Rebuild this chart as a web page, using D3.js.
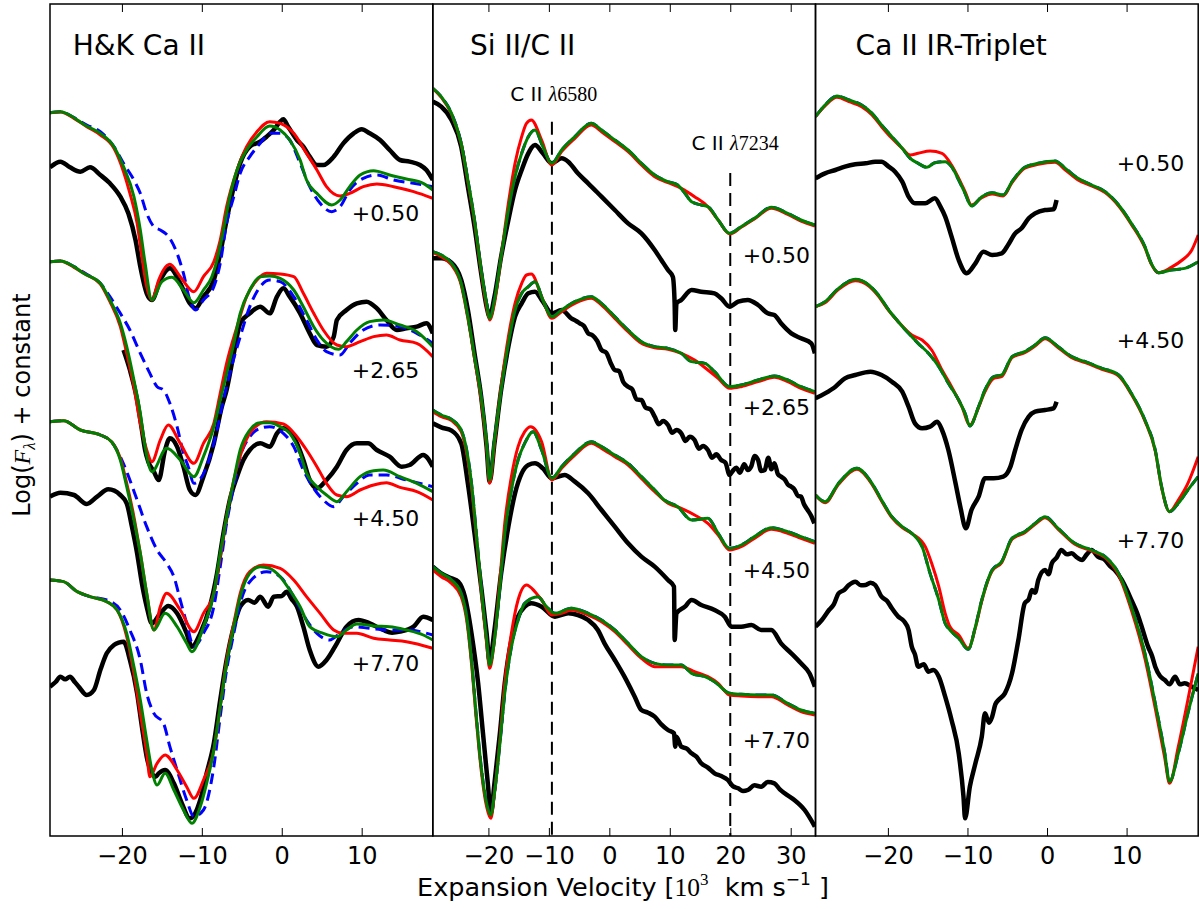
<!DOCTYPE html>
<html>
<head>
<meta charset="utf-8">
<script src="https://cdn.jsdelivr.net/npm/d3@7/dist/d3.min.js"></script>
<style>
  body { margin: 0; background: #fff; }
  text { font-family: "DejaVu Sans", sans-serif; }
</style>
</head>
<body>
<div id="chart"></div>
<script>
// ---- data: [velocity (10^3 km/s), log flux + constant] ----
var panelTitles = ["H&K Ca II", "Si II/C II", "Ca II IR-Triplet"];
var hkTicks = [-20, -10, 0, 10];
var siTicks = [-20, -10, 0, 10, 20, 30];
var caTicks = [-20, -10, 0, 10];
var hkEpochs = ["+0.50", "+2.65", "+4.50", "+7.70"];
var siEpochs = ["+0.50", "+2.65", "+4.50", "+7.70"];
var caEpochs = ["+0.50", "+4.50", "+7.70"];
var ciiVel = [-9.5, 20.0];
var ciiWave = ["6580", "7234"];

// H&K Ca II
var hk050Obs = [[-29.0,20.06],[-27.7,20.23],[-26.5,20.06],[-25.2,19.93],[-24.0,20.06],[-22.7,19.83],[-21.5,19.58],[-20.2,19.18],[-19.2,18.68],[-18.3,17.88],[-17.7,17.08],[-16.9,16.28],[-16.25,16.08],[-15.2,16.68],[-14.0,17.03],[-12.7,16.58],[-11.5,15.98],[-10.8,15.83],[-9.8,16.18],[-8.5,16.68],[-7.7,17.48],[-6.9,18.48],[-6.0,19.48],[-5.2,20.18],[-4.0,20.68],[-2.7,20.83],[-1.9,20.98],[-1.0,21.18],[-0.2,21.43],[0.2,21.50],[0.8,21.28],[1.9,20.88],[2.7,20.68],[3.5,20.38],[4.4,20.13],[5.2,20.13],[6.5,20.38],[7.7,20.78],[9.0,21.08],[10.0,21.20],[11.0,21.08],[12.3,20.88],[13.5,20.58],[14.8,20.28],[16.0,20.23],[17.3,20.13],[18.1,19.98],[18.9,19.68]];
var hk050Red = [[-29.0,21.70],[-27.7,21.72],[-26.0,21.53],[-24.4,21.28],[-22.7,21.03],[-21.0,20.63],[-19.8,19.93],[-19.0,19.28],[-18.1,18.38],[-17.5,17.38],[-16.9,16.48],[-16.25,16.08],[-15.4,16.68],[-14.8,16.98],[-14.0,17.15],[-12.7,16.78],[-11.0,16.33],[-9.8,16.78],[-8.5,17.23],[-7.7,17.88],[-6.9,18.88],[-5.6,19.98],[-4.4,20.68],[-3.1,21.13],[-1.5,21.43],[-0.2,21.38],[1.5,21.08],[3.1,20.48],[4.4,19.98],[5.6,19.48],[7.3,19.20],[8.5,19.28],[10.2,19.48],[11.9,19.56],[14.0,19.48],[16.5,19.33],[18.9,19.13]];
var hk050Green = [[-29.0,21.70],[-27.7,21.73],[-26.0,21.55],[-24.8,21.35],[-22.7,21.08],[-21.0,20.68],[-19.8,20.08],[-18.5,19.18],[-17.7,18.18],[-17.1,17.18],[-16.25,16.08],[-15.0,16.63],[-13.75,16.76],[-12.3,16.38],[-11.0,16.00],[-9.8,16.38],[-8.75,16.78],[-8.1,17.28],[-7.3,18.18],[-6.5,19.18],[-5.6,19.98],[-4.4,20.58],[-3.1,20.98],[-1.5,21.30],[-0.2,21.18],[1.0,20.88],[2.3,20.28],[3.1,19.68],[4.4,19.28],[6.25,18.93],[7.3,19.08],[8.5,19.48],[9.8,19.83],[11.5,19.96],[13.5,19.83],[15.6,19.71],[17.7,19.58],[18.9,19.38]];
var hk050Blue = [[-29.0,21.70],[-27.7,21.73],[-26.0,21.55],[-24.4,21.33],[-22.7,21.13],[-21.0,20.68],[-19.8,20.18],[-18.5,19.68],[-17.7,19.28],[-16.9,18.68],[-16.0,18.28],[-15.2,18.18],[-14.0,17.93],[-13.1,17.48],[-12.3,16.88],[-11.5,16.08],[-10.8,15.78],[-9.8,16.08],[-8.5,16.48],[-7.7,17.18],[-6.9,18.38],[-6.0,19.18],[-5.2,19.88],[-4.0,20.38],[-2.7,20.78],[-1.5,21.08],[-0.2,21.08],[1.0,20.88],[2.3,20.18],[3.5,19.48],[4.8,18.98],[6.25,18.73],[7.3,18.88],[8.5,19.38],[10.2,19.73],[11.9,19.83],[14.0,19.68],[16.5,19.58],[18.9,19.48]];

var hk265Obs = [[-19.8,14.58],[-19.0,13.98],[-18.1,13.08],[-17.5,12.18],[-17.1,11.58],[-16.7,11.23],[-16.0,10.93],[-15.4,10.68],[-14.6,11.58],[-14.0,11.93],[-13.1,11.68],[-12.3,11.08],[-11.5,10.38],[-10.8,10.23],[-9.8,10.78],[-8.5,11.78],[-7.5,12.88],[-6.9,13.38],[-6.0,14.48],[-5.2,15.38],[-4.0,15.68],[-2.7,15.88],[-1.5,15.68],[-0.6,16.18],[0.2,16.43],[1.0,16.18],[2.3,15.68],[3.5,15.08],[4.4,14.73],[5.6,14.68],[6.5,14.98],[6.9,15.48],[8.1,15.78],[9.4,15.98],[10.6,16.03],[11.9,15.83],[13.1,15.48],[14.4,15.18],[15.6,15.23],[16.9,15.28],[18.1,15.38],[18.9,15.08]];
var hk265Red = [[-29.0,17.23],[-27.7,17.25],[-26.0,17.06],[-24.4,16.83],[-22.7,16.56],[-21.5,16.03],[-20.2,15.28],[-19.4,14.48],[-18.5,13.48],[-17.7,12.38],[-16.9,11.58],[-16.25,11.23],[-15.2,11.88],[-14.2,12.33],[-12.7,11.78],[-11.0,11.18],[-9.8,11.78],[-8.5,12.38],[-7.7,13.28],[-6.9,14.18],[-5.6,15.28],[-4.4,16.18],[-3.1,16.68],[-1.9,16.88],[-0.2,16.86],[1.5,16.78],[2.7,16.28],[4.0,15.68],[5.2,15.18],[6.9,14.73],[8.1,14.68],[9.8,14.83],[11.5,14.98],[13.1,15.03],[14.8,14.88],[16.9,14.78],[18.9,14.38]];
var hk265Green = [[-29.0,17.23],[-27.7,17.25],[-26.0,17.08],[-24.8,16.88],[-22.7,16.58],[-21.5,16.08],[-20.2,15.38],[-19.4,14.68],[-18.5,13.68],[-17.7,12.68],[-17.1,11.68],[-16.25,10.93],[-14.4,11.63],[-12.7,11.28],[-11.0,10.78],[-9.8,11.38],[-8.5,12.28],[-7.7,13.08],[-6.9,13.88],[-6.0,14.78],[-5.2,15.68],[-4.0,16.38],[-2.7,16.78],[-1.5,16.80],[-0.2,16.73],[1.5,16.38],[2.7,15.88],[4.0,15.28],[5.2,14.88],[7.1,14.60],[8.1,14.83],[9.4,15.18],[11.0,15.43],[12.7,15.48],[14.8,15.33],[16.9,15.13],[18.9,14.68]];
var hk265Blue = [[-29.0,17.23],[-27.7,17.25],[-26.0,17.08],[-24.4,16.85],[-22.7,16.58],[-21.5,16.18],[-20.2,15.68],[-19.0,15.18],[-17.7,14.48],[-16.5,13.88],[-15.6,13.48],[-14.8,13.38],[-14.0,12.98],[-13.1,12.28],[-12.3,11.48],[-11.7,11.08],[-11.0,10.58],[-9.4,11.08],[-8.1,12.18],[-7.3,13.08],[-6.5,13.88],[-5.2,14.98],[-4.0,15.88],[-2.7,16.48],[-1.5,16.68],[-0.2,16.63],[1.5,16.18],[3.1,15.48],[4.4,14.88],[5.6,14.53],[7.3,14.43],[8.5,14.78],[10.2,15.18],[12.3,15.33],[14.8,15.28],[16.9,15.08],[18.9,14.78]];

var hk450Obs = [[-29.0,10.18],[-27.7,10.30],[-26.0,10.23],[-24.4,9.96],[-23.1,10.18],[-21.7,10.40],[-20.2,10.23],[-19.4,9.98],[-18.75,9.28],[-18.1,8.48],[-17.5,7.58],[-16.9,6.88],[-16.25,6.38],[-15.2,6.68],[-14.2,6.90],[-13.1,6.68],[-11.9,6.08],[-11.25,5.68],[-10.2,6.08],[-9.0,6.88],[-8.1,7.88],[-7.3,9.08],[-6.5,10.08],[-5.6,10.78],[-4.8,11.28],[-4.0,11.58],[-2.7,11.78],[-1.5,11.68],[-0.6,12.08],[0.2,12.23],[1.5,11.98],[2.7,11.28],[3.5,10.68],[4.4,10.43],[5.6,10.68],[6.9,11.08],[8.1,11.58],[9.4,11.78],[10.8,11.78],[11.9,11.58],[13.5,11.38],[15.0,11.08],[16.0,11.13],[17.7,11.43],[18.9,11.08]];
var hk450Red = [[-29.0,12.43],[-27.3,12.46],[-25.2,12.18],[-22.7,12.03],[-21.3,11.83],[-20.2,11.33],[-19.4,10.58],[-18.5,9.58],[-17.7,8.48],[-16.9,7.28],[-16.0,6.18],[-15.2,6.88],[-14.4,7.28],[-12.7,6.78],[-11.0,6.13],[-9.8,6.68],[-8.5,7.28],[-7.7,8.38],[-6.9,9.58],[-6.0,10.68],[-4.8,11.68],[-3.5,12.23],[-1.9,12.43],[0.2,12.36],[1.9,11.98],[3.1,11.58],[4.4,11.08],[5.6,10.58],[6.9,10.23],[8.1,10.18],[9.8,10.38],[11.5,10.53],[13.1,10.60],[14.8,10.46],[16.9,10.33],[18.9,10.08]];
var hk450Green = [[-29.0,12.43],[-27.3,12.46],[-25.2,12.18],[-22.7,12.03],[-21.3,11.83],[-20.2,11.28],[-19.4,10.48],[-18.5,9.48],[-17.7,8.48],[-16.9,7.28],[-16.0,6.18],[-14.6,6.68],[-13.1,6.28],[-11.9,5.78],[-11.25,5.53],[-9.8,6.28],[-8.5,7.28],[-7.7,8.48],[-6.9,9.58],[-6.0,10.68],[-5.2,11.58],[-4.0,12.18],[-2.7,12.40],[-1.5,12.40],[-0.2,12.28],[1.0,12.08],[2.3,11.48],[3.1,10.88],[4.4,10.48],[5.6,10.23],[6.9,10.03],[8.1,10.33],[9.8,10.78],[11.5,10.96],[12.7,10.98],[14.8,10.78],[16.9,10.58],[18.9,10.33]];
var hk450Blue = [[-29.0,12.43],[-27.3,12.46],[-25.2,12.18],[-22.7,12.03],[-21.3,11.83],[-20.2,11.38],[-19.4,10.93],[-18.1,10.08],[-16.9,9.28],[-15.6,8.58],[-14.4,8.18],[-13.5,7.78],[-12.7,7.08],[-11.9,6.38],[-11.0,5.68],[-9.8,6.08],[-8.5,6.88],[-7.7,8.08],[-6.9,9.38],[-6.0,10.48],[-5.2,11.38],[-4.0,11.98],[-2.7,12.23],[-1.5,12.28],[0.2,12.08],[1.5,11.68],[2.7,10.98],[4.0,10.43],[5.2,10.08],[6.5,9.88],[7.7,10.18],[9.4,10.58],[11.0,10.83],[13.1,10.83],[15.6,10.68],[18.9,10.48]];

var hk770Obs = [[-29.0,4.48],[-28.3,4.62],[-27.7,4.78],[-27.1,4.70],[-26.5,4.78],[-25.9,4.62],[-25.4,4.48],[-24.4,4.23],[-23.5,4.38],[-22.7,4.98],[-21.9,5.48],[-21.0,5.73],[-20.4,5.80],[-19.8,5.83],[-19.0,5.28],[-18.1,4.28],[-17.5,3.28],[-16.9,2.38],[-16.25,1.88],[-15.8,1.78],[-15.4,1.88],[-14.6,1.98],[-13.5,1.58],[-12.5,0.98],[-11.5,0.53],[-10.2,1.08],[-9.4,1.88],[-8.5,2.78],[-7.7,4.08],[-6.9,5.28],[-6.0,6.28],[-5.2,6.88],[-4.2,7.08],[-3.4,7.00],[-2.7,7.18],[-1.7,6.88],[-1.0,7.18],[0.0,7.20],[0.6,7.33],[1.2,7.12],[1.9,6.88],[2.7,6.28],[3.5,5.58],[4.6,5.08],[5.6,5.28],[6.9,5.78],[8.1,6.28],[9.6,6.48],[11.0,6.38],[12.7,6.18],[13.8,6.10],[14.8,6.13],[16.5,6.28],[17.7,6.58],[18.9,6.48]];
var hk770Red = [[-29.0,7.68],[-27.3,7.63],[-25.6,7.33],[-24.0,7.18],[-21.9,7.03],[-20.6,6.78],[-19.4,5.98],[-18.5,4.88],[-17.7,3.68],[-16.9,2.48],[-16.5,1.78],[-15.6,2.18],[-14.6,2.43],[-13.1,1.98],[-11.9,1.48],[-11.0,1.13],[-9.8,1.68],[-8.5,2.58],[-7.7,3.88],[-6.9,5.28],[-6.0,6.38],[-5.2,7.28],[-4.0,7.93],[-2.3,8.13],[-0.2,8.03],[1.5,7.68],[3.1,7.18],[4.8,6.68],[6.5,6.18],[7.7,6.08],[9.4,6.08],[11.5,5.93],[13.5,5.88],[15.6,5.83],[18.9,5.63]];
var hk770Green = [[-29.0,7.68],[-27.3,7.63],[-25.6,7.33],[-24.0,7.18],[-21.9,7.03],[-20.6,6.78],[-19.4,6.08],[-18.5,5.08],[-17.7,4.08],[-16.9,2.88],[-16.25,1.98],[-15.6,1.53],[-14.6,1.88],[-13.5,1.38],[-12.3,0.78],[-11.25,0.38],[-10.2,0.88],[-9.4,1.58],[-8.5,2.58],[-7.7,3.88],[-6.9,5.18],[-6.0,6.28],[-5.2,7.18],[-4.0,7.88],[-2.7,8.08],[-1.5,8.03],[-0.2,7.78],[1.0,7.38],[2.3,6.88],[3.5,6.28],[5.2,6.08],[6.9,5.98],[8.1,6.18],[9.4,6.36],[11.5,6.30],[13.5,6.28],[15.6,6.18],[17.7,6.03],[18.9,5.88]];
var hk770Blue = [[-29.0,7.68],[-27.3,7.63],[-25.6,7.33],[-24.0,7.18],[-21.9,7.08],[-20.2,6.78],[-19.0,6.18],[-17.7,5.28],[-16.9,4.28],[-16.0,3.68],[-14.8,3.38],[-14.0,2.68],[-13.1,1.98],[-11.9,1.08],[-11.0,0.58],[-9.8,0.78],[-8.5,2.08],[-7.7,3.58],[-6.9,4.98],[-6.0,6.08],[-5.2,6.98],[-4.0,7.63],[-1.9,7.93],[-0.2,7.78],[1.5,7.18],[3.1,6.48],[4.4,6.08],[6.0,5.88],[7.3,6.08],[9.0,6.28],[11.0,6.23],[13.5,6.18],[15.6,6.18],[18.9,6.03]];

// Si II / C II
var si050Obs = [[-29.2,22.03],[-27.8,21.88],[-26.1,21.48],[-24.5,20.68],[-23.4,19.48],[-22.3,18.28],[-21.2,16.88],[-20.3,15.88],[-19.8,15.58],[-19.0,16.18],[-17.9,17.38],[-16.7,18.48],[-15.6,19.38],[-14.5,19.98],[-13.4,20.48],[-12.3,20.73],[-11.0,20.48],[-9.5,20.18],[-7.9,20.33],[-6.8,20.23],[-5.2,19.88],[-3.5,19.58],[-1.3,19.18],[0.9,18.78],[3.1,18.38],[5.3,18.08],[7.5,17.58],[8.6,17.28],[9.7,16.98],[10.5,16.78],[10.8,15.98],[10.9,15.18],[11.1,15.98],[11.9,16.08],[13.6,16.38],[15.2,16.33],[17.4,16.28],[18.5,16.13],[19.9,15.88],[21.3,16.03],[22.9,16.08],[24.6,15.93],[26.2,15.68],[27.3,15.63],[28.4,15.38],[30.1,15.08],[31.7,14.93],[33.4,14.78],[34.0,14.48]];
var si050Red = [[-29.2,22.43],[-27.8,22.16],[-26.1,21.66],[-24.5,20.76],[-23.4,19.63],[-22.3,18.43],[-21.2,16.93],[-20.3,15.88],[-19.8,15.48],[-19.0,15.98],[-17.9,17.38],[-16.7,18.98],[-15.6,20.18],[-14.5,20.98],[-13.7,21.38],[-12.9,21.48],[-11.2,20.88],[-9.5,20.13],[-7.9,20.53],[-5.7,20.93],[-3.0,21.33],[-1.3,21.13],[0.9,20.83],[3.1,20.53],[5.3,20.13],[7.5,19.78],[9.7,19.60],[11.9,19.43],[14.1,19.18],[16.3,18.88],[18.0,18.48],[19.9,18.06],[21.8,18.26],[24.0,18.51],[26.8,18.83],[29.5,18.65],[31.7,18.45],[34.0,18.30]];
var si050Green = [[-29.2,22.43],[-27.8,22.18],[-26.1,21.68],[-24.5,20.78],[-23.4,19.68],[-22.3,18.48],[-21.2,16.98],[-20.3,15.98],[-19.8,15.53],[-19.0,16.08],[-17.9,17.38],[-16.7,18.78],[-15.6,19.78],[-14.5,20.48],[-13.4,20.98],[-12.3,21.18],[-11.0,20.68],[-9.5,20.18],[-7.9,20.58],[-5.7,20.98],[-3.0,21.38],[-1.3,21.18],[0.9,20.88],[3.1,20.58],[5.3,20.18],[7.5,19.83],[9.7,19.63],[11.3,19.53],[12.5,19.28],[13.6,19.03],[15.2,18.93],[16.3,18.88],[18.0,18.48],[19.9,18.08],[21.8,18.28],[24.0,18.53],[26.8,18.86],[29.5,18.68],[31.7,18.48],[34.0,18.33]];

var si265Obs = [[-29.2,17.33],[-27.8,17.33],[-26.1,17.20],[-24.5,16.68],[-23.4,15.78],[-22.3,14.48],[-21.2,13.18],[-20.3,11.68],[-19.8,10.63],[-19.0,11.78],[-17.9,13.38],[-16.7,14.68],[-15.6,15.58],[-14.5,15.98],[-13.4,16.28],[-12.3,16.33],[-11.0,16.03],[-9.5,15.68],[-7.9,15.78],[-6.3,15.53],[-5.5,15.45],[-4.9,15.38],[-4.2,15.30],[-3.5,15.08],[-2.8,15.02],[-2.0,14.85],[-1.3,14.58],[-0.5,14.50],[0.2,14.20],[0.9,13.98],[1.6,13.95],[2.3,13.62],[3.1,13.48],[3.8,13.40],[4.5,13.10],[5.3,13.08],[6.0,12.85],[6.8,12.80],[7.5,12.58],[8.2,12.35],[8.9,12.45],[9.7,12.33],[10.4,12.10],[11.1,12.18],[11.9,12.08],[12.6,11.85],[13.3,11.98],[14.1,11.88],[14.8,11.62],[15.5,11.70],[16.3,11.58],[17.0,11.35],[17.7,11.45],[18.5,11.28],[19.2,11.20],[19.9,10.83],[20.4,10.95],[21.0,11.05],[21.6,10.90],[22.3,11.15],[22.9,10.98],[23.5,11.10],[24.0,11.40],[24.6,11.28],[25.1,10.95],[25.7,10.98],[26.3,11.35],[26.8,11.00],[27.3,11.18],[27.9,10.85],[28.4,10.78],[29.0,10.70],[29.5,10.55],[30.1,10.48],[30.6,10.40],[31.2,10.20],[31.7,10.18],[32.2,9.95],[32.8,9.78],[33.4,9.60],[33.9,9.38]];
var si265Red = [[-29.2,17.50],[-27.8,17.38],[-26.1,17.13],[-24.5,16.53],[-23.4,15.53],[-22.3,14.33],[-21.2,13.08],[-20.3,11.68],[-19.8,10.58],[-19.0,11.78],[-17.9,13.48],[-16.7,14.98],[-15.6,15.98],[-14.5,16.58],[-13.7,16.83],[-12.9,16.86],[-11.2,16.18],[-9.5,15.53],[-7.9,15.73],[-5.7,15.98],[-3.0,16.13],[-1.3,15.93],[0.9,15.53],[3.1,15.13],[5.3,14.78],[7.5,14.65],[9.7,14.60],[11.9,14.48],[14.1,14.28],[16.3,13.98],[18.0,13.73],[19.9,13.43],[21.8,13.48],[24.6,13.63],[27.3,13.76],[29.5,13.63],[31.7,13.43],[34.0,13.28]];
var si265Green = [[-29.2,17.53],[-27.8,17.43],[-26.1,17.18],[-24.5,16.58],[-23.4,15.58],[-22.3,14.38],[-21.2,13.18],[-20.3,11.78],[-19.8,10.68],[-19.0,11.88],[-17.9,13.38],[-16.7,14.78],[-15.6,15.78],[-14.5,16.28],[-13.4,16.48],[-12.3,16.63],[-11.0,16.08],[-9.5,15.58],[-7.9,15.78],[-5.7,16.03],[-3.0,16.18],[-1.3,15.98],[0.9,15.58],[3.1,15.18],[5.3,14.83],[7.5,14.68],[9.7,14.63],[11.9,14.48],[13.6,14.23],[15.8,14.18],[17.4,13.93],[19.9,13.48],[21.8,13.53],[24.6,13.68],[27.3,13.80],[29.5,13.68],[31.7,13.48],[34.0,13.33]];

var si450Obs = [[-29.2,12.38],[-27.8,12.26],[-26.1,12.16],[-24.5,11.78],[-23.4,10.58],[-22.3,9.08],[-21.2,7.48],[-20.3,6.08],[-19.8,5.23],[-19.0,6.18],[-17.9,7.88],[-16.7,9.28],[-15.6,10.28],[-14.5,10.88],[-13.4,11.13],[-12.3,11.18],[-11.0,11.03],[-9.5,10.73],[-7.4,10.83],[-5.7,10.63],[-3.5,10.28],[-1.3,9.78],[0.9,9.28],[3.1,8.78],[5.3,8.38],[7.5,8.08],[9.7,7.68],[10.7,7.48],[10.8,5.88],[11.1,6.68],[12.5,6.88],[13.6,7.08],[15.2,6.93],[17.4,6.78],[19.1,6.58],[20.2,6.28],[21.8,6.28],[23.5,6.33],[25.1,6.18],[26.8,6.18],[28.4,5.78],[30.1,5.48],[31.7,5.18],[33.1,4.88],[34.0,4.48]];
var si450Red = [[-29.2,12.73],[-27.8,12.58],[-26.1,12.46],[-24.5,12.13],[-23.6,11.48],[-22.8,10.48],[-22.0,8.98],[-21.2,7.38],[-20.3,5.78],[-19.8,5.03],[-19.0,5.88],[-18.1,7.68],[-17.3,9.38],[-16.2,10.78],[-15.1,11.68],[-14.0,12.13],[-13.0,12.28],[-11.2,11.83],[-9.5,10.68],[-7.9,11.03],[-5.7,11.43],[-3.0,11.78],[-1.3,11.63],[0.9,11.38],[3.1,11.13],[5.3,10.73],[7.5,10.33],[9.7,9.98],[11.9,9.83],[14.1,9.63],[16.3,9.38],[18.0,9.03],[19.9,8.58],[21.8,8.68],[24.0,8.93],[26.8,9.20],[29.5,9.08],[31.7,8.93],[34.0,8.78]];
var si450Green = [[-29.2,12.78],[-27.8,12.63],[-26.1,12.50],[-24.5,12.18],[-23.6,11.58],[-22.8,10.58],[-22.0,9.08],[-21.2,7.48],[-20.3,5.88],[-19.8,5.13],[-19.0,5.88],[-18.1,7.48],[-17.3,9.08],[-16.2,10.38],[-15.1,11.28],[-14.0,11.78],[-12.6,12.13],[-11.2,11.58],[-9.5,10.73],[-7.9,11.08],[-5.7,11.48],[-3.0,11.83],[-1.3,11.68],[0.9,11.43],[3.1,11.18],[5.3,10.78],[7.5,10.38],[9.1,10.08],[11.3,9.88],[13.6,9.48],[16.3,9.53],[18.0,9.08],[19.9,8.63],[21.8,8.73],[24.0,8.98],[26.8,9.25],[29.5,9.13],[31.7,8.98],[34.0,8.83]];

var si770Obs = [[-29.2,8.08],[-27.8,7.88],[-26.1,7.73],[-25.0,7.63],[-23.9,7.18],[-22.8,6.08],[-21.7,4.58],[-20.9,3.08],[-20.1,1.58],[-19.6,0.68],[-19.0,1.58],[-18.1,3.08],[-17.3,4.58],[-16.2,5.88],[-15.1,6.58],[-14.0,6.88],[-12.9,6.98],[-11.2,6.88],[-9.0,6.58],[-6.8,6.68],[-5.2,6.63],[-3.5,6.48],[-1.9,6.18],[-0.8,5.78],[0.9,5.28],[2.5,4.78],[4.2,4.18],[5.3,3.78],[6.4,3.70],[7.5,3.58],[8.6,3.35],[9.7,3.18],[10.7,3.08],[10.9,2.68],[11.1,2.98],[11.9,2.68],[12.8,2.62],[13.6,2.48],[14.4,2.38],[15.2,2.18],[16.3,2.05],[17.4,1.88],[18.5,1.80],[19.6,1.68],[20.4,1.50],[21.3,1.43],[22.1,1.35],[22.9,1.38],[24.0,1.52],[25.1,1.48],[26.2,1.62],[27.3,1.58],[28.2,1.40],[29.0,1.28],[30.6,1.08],[32.3,0.78],[34.0,0.28]];
var si770Red = [[-29.2,7.98],[-27.8,7.78],[-26.1,7.58],[-24.5,7.18],[-23.6,6.48],[-22.8,5.18],[-22.0,3.48],[-21.2,1.98],[-20.3,0.88],[-19.6,0.53],[-19.0,1.28],[-18.1,2.88],[-17.3,4.58],[-16.2,6.08],[-15.1,7.08],[-13.7,7.53],[-12.3,7.33],[-11.2,7.08],[-9.5,6.63],[-7.9,6.68],[-6.3,6.78],[-3.5,6.63],[-1.3,6.43],[0.9,6.13],[3.1,5.73],[5.3,5.33],[7.5,5.08],[9.7,5.08],[11.9,5.08],[14.1,4.93],[16.3,4.78],[18.0,4.58],[19.9,4.23],[21.8,4.20],[24.6,4.18],[26.8,4.18],[29.5,3.93],[31.7,3.73],[34.0,3.63]];
var si770Green = [[-29.2,8.08],[-27.8,7.88],[-26.1,7.68],[-24.5,7.28],[-23.6,6.58],[-22.8,5.28],[-22.0,3.58],[-21.2,2.08],[-20.3,0.98],[-19.6,0.63],[-19.0,1.28],[-18.1,2.78],[-17.3,4.28],[-16.2,5.68],[-15.1,6.48],[-14.0,6.98],[-11.8,7.18],[-10.4,6.88],[-9.0,6.68],[-6.3,6.83],[-3.5,6.68],[-1.3,6.48],[0.9,6.18],[3.1,5.78],[5.3,5.38],[7.5,5.18],[9.7,5.13],[11.9,5.13],[13.6,4.88],[15.8,4.78],[17.4,4.63],[19.9,4.28],[21.8,4.25],[24.6,4.23],[26.8,4.23],[29.5,3.98],[31.7,3.78],[34.0,3.68]];

// Ca II IR triplet
var ca050Obs = [[-29.1,19.73],[-27.9,19.88],[-26.6,19.98],[-25.4,20.08],[-24.1,20.15],[-22.8,20.18],[-21.6,20.23],[-20.8,20.23],[-19.9,20.08],[-19.1,19.93],[-18.2,19.63],[-17.4,19.18],[-16.6,18.98],[-15.3,18.98],[-14.1,19.13],[-13.4,18.88],[-12.8,18.58],[-12.0,17.98],[-11.1,17.28],[-10.1,16.88],[-9.0,17.18],[-8.0,17.53],[-6.9,17.43],[-5.7,17.48],[-4.9,17.73],[-4.0,18.08],[-3.2,18.23],[-2.3,18.53],[-1.5,18.68],[-0.25,18.78],[0.8,18.80],[1.2,19.08]];
var ca050Red = [[-29.1,21.58],[-27.9,21.90],[-26.4,22.16],[-24.9,22.03],[-23.3,21.88],[-22.0,21.63],[-20.8,21.28],[-19.5,20.93],[-18.2,20.63],[-17.2,20.43],[-16.2,20.48],[-14.7,20.55],[-13.2,20.48],[-12.0,20.13],[-11.1,19.73],[-10.3,19.33],[-9.5,18.93],[-8.2,19.15],[-6.9,19.26],[-5.5,19.20],[-4.4,19.60],[-2.8,20.03],[-1.1,20.15],[1.0,20.21],[2.3,19.98],[3.9,19.68],[5.6,19.50],[7.3,19.30],[9.0,18.90],[10.6,18.35],[12.3,17.65],[13.1,17.16],[14.0,16.90],[15.6,17.06],[17.0,17.28],[18.2,17.58],[19.0,18.03]];
var ca050Green = [[-29.1,21.58],[-27.9,21.93],[-26.4,22.20],[-24.9,22.08],[-23.3,21.93],[-22.0,21.68],[-20.8,21.33],[-19.5,20.98],[-18.2,20.63],[-17.2,20.33],[-16.2,20.18],[-15.1,20.06],[-14.1,20.20],[-12.8,20.23],[-12.0,20.08],[-11.1,19.68],[-10.3,19.28],[-9.5,18.90],[-8.2,19.18],[-6.9,19.30],[-5.5,19.23],[-4.4,19.63],[-2.8,20.06],[-1.1,20.18],[1.0,20.25],[2.3,20.03],[3.9,19.73],[5.6,19.53],[7.3,19.33],[9.0,18.93],[10.6,18.38],[12.3,17.68],[13.1,17.18],[14.0,16.90],[15.6,16.98],[17.3,17.03],[19.0,17.23]];

var ca450Obs = [[-29.1,13.13],[-27.9,13.28],[-26.6,13.48],[-25.4,13.73],[-24.1,13.83],[-22.2,13.93],[-20.8,13.83],[-19.5,13.63],[-18.2,13.33],[-17.4,12.88],[-16.6,12.38],[-15.7,12.23],[-14.7,12.28],[-13.8,12.43],[-13.2,12.18],[-12.4,11.58],[-11.5,10.58],[-10.9,9.88],[-10.2,9.23],[-9.5,9.78],[-8.6,10.18],[-7.8,10.73],[-6.7,10.73],[-5.5,10.78],[-4.6,11.08],[-4.0,11.58],[-3.2,12.18],[-2.3,12.58],[-1.5,12.73],[-0.25,12.78],[0.8,12.83],[1.2,13.03]];
var ca450Red = [[-29.1,15.88],[-27.9,16.00],[-26.2,16.40],[-24.1,16.66],[-22.4,16.50],[-21.2,16.20],[-19.9,15.76],[-18.7,15.43],[-17.0,15.03],[-15.7,14.88],[-14.5,14.58],[-13.2,13.98],[-12.0,13.48],[-10.7,12.88],[-9.7,12.33],[-8.6,12.86],[-7.8,13.33],[-6.7,13.73],[-5.7,13.78],[-4.4,14.35],[-2.8,14.50],[-1.5,14.70],[-0.25,14.92],[1.4,14.65],[3.1,14.35],[4.8,14.20],[6.9,14.00],[9.0,13.80],[10.6,13.25],[12.3,12.45],[13.6,11.55],[14.4,10.45],[15.4,9.73],[16.5,10.08],[17.7,10.58],[19.0,11.38]];
var ca450Green = [[-29.1,15.88],[-27.9,16.03],[-26.2,16.43],[-24.1,16.70],[-22.4,16.53],[-21.2,16.23],[-19.9,15.78],[-18.7,15.43],[-17.4,15.08],[-16.2,14.78],[-14.9,14.48],[-13.6,14.08],[-12.4,13.58],[-11.1,13.08],[-10.3,12.68],[-9.7,12.30],[-8.6,12.88],[-7.8,13.38],[-6.7,13.78],[-5.7,13.83],[-4.4,14.38],[-2.8,14.53],[-1.5,14.73],[-0.25,14.95],[1.4,14.68],[3.1,14.38],[4.8,14.23],[6.9,14.03],[9.0,13.83],[10.6,13.28],[12.3,12.48],[13.6,11.58],[14.4,10.48],[15.4,9.73],[16.5,9.98],[17.7,10.38],[19.0,10.78]];

var ca770Obs = [[-29.1,6.28],[-28.3,6.48],[-27.4,6.78],[-26.8,6.95],[-26.2,7.28],[-25.5,7.38],[-24.9,7.53],[-24.1,7.63],[-23.4,7.52],[-22.8,7.53],[-22.2,7.60],[-21.6,7.53],[-20.8,7.18],[-20.1,7.05],[-19.5,6.83],[-18.7,6.58],[-18.0,6.45],[-17.4,6.18],[-17.0,5.68],[-16.6,5.45],[-16.2,5.08],[-15.5,5.15],[-14.9,4.93],[-14.3,4.98],[-13.6,4.78],[-12.8,4.18],[-12.0,3.48],[-11.1,2.48],[-10.5,1.18],[-10.3,0.53],[-9.7,1.48],[-9.0,2.18],[-8.2,2.98],[-7.8,3.68],[-7.3,3.40],[-6.9,3.58],[-6.5,3.95],[-6.1,4.08],[-5.3,4.28],[-4.4,4.88],[-3.6,5.88],[-2.8,6.98],[-2.3,7.10],[-1.9,7.38],[-1.5,7.30],[-1.1,7.68],[-0.25,7.98],[0.2,7.85],[0.6,8.18],[1.2,8.35],[1.8,8.58],[2.5,8.45],[3.1,8.48],[3.8,8.35],[4.4,8.28],[5.0,8.45],[5.6,8.58],[6.4,8.38],[7.3,8.28],[7.9,8.10],[8.5,7.98],[9.4,7.68],[10.0,7.40],[10.6,7.08],[11.3,6.70],[11.9,6.28],[12.7,5.68],[13.2,5.40],[13.6,5.08],[14.2,4.80],[14.8,4.68],[15.4,4.55],[16.1,4.78],[16.7,4.55],[17.3,4.58],[18.2,4.48],[19.0,4.38]];
var ca770Red = [[-29.1,10.23],[-27.9,10.00],[-26.2,10.55],[-23.9,11.00],[-22.0,10.55],[-20.8,10.05],[-19.5,9.55],[-18.2,9.25],[-17.0,9.08],[-15.3,8.68],[-14.5,8.18],[-13.6,7.48],[-12.8,6.68],[-12.2,6.28],[-11.1,6.03],[-9.9,5.63],[-9.0,6.25],[-8.2,7.05],[-6.9,7.95],[-5.7,8.20],[-4.4,8.90],[-2.8,9.10],[-1.5,9.35],[-0.25,9.55],[1.4,9.20],[3.5,8.75],[5.6,8.55],[7.3,8.35],[9.0,7.83],[10.6,6.78],[12.3,5.33],[13.6,3.83],[14.8,2.33],[15.4,1.58],[16.5,2.68],[17.7,4.08],[19.0,5.68]];
var ca770Green = [[-29.1,10.23],[-27.9,10.03],[-26.2,10.58],[-23.9,11.03],[-22.0,10.58],[-20.8,10.08],[-19.5,9.58],[-18.2,9.28],[-17.0,9.08],[-15.7,8.68],[-14.7,7.88],[-13.6,7.08],[-12.8,6.38],[-12.2,6.18],[-11.1,5.93],[-9.9,5.60],[-9.0,6.28],[-8.2,7.08],[-6.9,7.98],[-5.7,8.23],[-4.4,8.93],[-2.8,9.13],[-1.5,9.38],[-0.25,9.58],[1.4,9.23],[3.5,8.78],[5.6,8.58],[7.3,8.38],[9.0,7.88],[10.6,6.88],[12.3,5.48],[13.6,3.98],[14.8,2.48],[15.4,1.63],[16.5,2.48],[17.7,3.68],[19.0,4.88]];

// ---- layout ----
var width = 1200, height = 909;
var plotTop = 4, plotBottom = 836;
var edges = [50, 432.8, 815.5, 1198.2];

var panels = [
  { title: panelTitles[0], titleX: 72.7, domain: [-29.0, 18.9], ticks: hkTicks,
    labels: hkEpochs, labelX: 17.2, labelY: [18.69, 13.98, 9.54, 5.19],
    series: [
      {obs: hk050Obs, blue: hk050Blue, red: hk050Red, green: hk050Green},
      {obs: hk265Obs, blue: hk265Blue, red: hk265Red, green: hk265Green},
      {obs: hk450Obs, blue: hk450Blue, red: hk450Red, green: hk450Green},
      {obs: hk770Obs, blue: hk770Blue, red: hk770Red, green: hk770Green}] },
  { title: panelTitles[1], titleX: 470, domain: [-29.2, 34.1], ticks: siTicks,
    labels: siEpochs, labelX: 33.2, labelY: [17.43, 12.87, 7.98, 2.88],
    series: [
      {obs: si050Obs, blue: si050Green, red: si050Red, green: si050Green},
      {obs: si265Obs, blue: si265Green, red: si265Red, green: si265Green},
      {obs: si450Obs, blue: si450Green, red: si450Red, green: si450Green},
      {obs: si770Obs, blue: si770Green, red: si770Red, green: si770Green}] },
  { title: panelTitles[2], titleX: 855.6, domain: [-29.1, 19.0], ticks: caTicks,
    labels: caEpochs, labelX: 17.25, labelY: [20.18, 14.88, 8.88],
    series: [
      {obs: ca050Obs, blue: ca050Green, red: ca050Red, green: ca050Green},
      {obs: ca450Obs, blue: ca450Green, red: ca450Red, green: ca450Green},
      {obs: ca770Obs, blue: ca770Green, red: ca770Red, green: ca770Green}] }
];

var svg = d3.select("#chart").append("svg")
  .attr("width", width).attr("height", height)
  .style("background", "#fff");

var y = d3.scaleLinear().domain([0, 24.96]).range([plotBottom, plotTop]);

function fmt(d) { return d < 0 ? "\u2212" + (-d) : String(d); }

panels.forEach(function(p, i) {
  var x = d3.scaleLinear().domain(p.domain).range([edges[i], edges[i + 1]]);
  var g = svg.append("g").attr("class", "panel-" + i);

  svg.append("clipPath").attr("id", "clip" + i)
    .append("rect")
    .attr("x", edges[i]).attr("y", plotTop)
    .attr("width", edges[i + 1] - edges[i]).attr("height", plotBottom - plotTop);

  var line = d3.line()
    .x(function(d) { return x(d[0]); })
    .y(function(d) { return y(d[1]); })
    .curve(d3.curveMonotoneX);

  var curves = g.append("g").attr("clip-path", "url(#clip" + i + ")");

  // C II markers in the Si panel
  if (i == 1) {
    var tops = [21.43, 19.89];
    curves.selectAll(".cii")
      .data(ciiVel).enter().append("line")
      .attr("class", "cii")
      .attr("x1", function(d) { return x(d); })
      .attr("x2", function(d) { return x(d); })
      .attr("y1", function(d, k) { return y(tops[k]); })
      .attr("y2", plotBottom)
      .attr("stroke", "#000").attr("stroke-width", 2)
      .attr("stroke-dasharray", "13,7");
  }

  p.series.forEach(function(s) {
    curves.append("path").datum(s.obs).attr("d", line)
      .attr("fill", "none").attr("stroke", "#000").attr("stroke-width", 4.5)
      .attr("stroke-linejoin", "round");
    curves.append("path").datum(s.blue).attr("d", line)
      .attr("fill", "none").attr("stroke", "#0000ff").attr("stroke-width", 3)
      .attr("stroke-dasharray", "11,6");
    curves.append("path").datum(s.red).attr("d", line)
      .attr("fill", "none").attr("stroke", "#ff0000").attr("stroke-width", 3);
    curves.append("path").datum(s.green).attr("d", line)
      .attr("fill", "none").attr("stroke", "#008000").attr("stroke-width", 3);
  });

  // epoch labels
  g.selectAll(".epoch")
    .data(p.labels).enter().append("text")
    .attr("class", "epoch")
    .attr("x", x(p.labelX))
    .attr("y", function(d, k) { return y(p.labelY[k]); })
    .attr("dy", "0.36em")
    .attr("text-anchor", "end")
    .attr("font-size", 22)
    .text(function(d) { return d; });

  // panel title
  g.append("text")
    .attr("x", p.titleX).attr("y", 55)
    .attr("font-size", 28)
    .text(p.title);

  if (i == 1) {
    var pos = [[-16.4, 22.26], [13.6, 20.8]];
    ciiWave.forEach(function(w, k) {
      var t = g.append("text")
        .attr("x", x(pos[k][0])).attr("y", y(pos[k][1]))
        .attr("dy", "0.36em").attr("font-size", 20);
      t.append("tspan").text("C II ");
      t.append("tspan").attr("font-family", "Liberation Serif").attr("font-style", "italic").text("\u03bb");
      t.append("tspan").attr("font-family", "Liberation Serif").text(w);
    });
  }

  // axes
  var bottom = g.append("g")
    .attr("transform", "translate(0," + plotBottom + ")")
    .call(d3.axisBottom(x).tickValues(p.ticks).tickSizeInner(-8).tickSizeOuter(0)
      .tickPadding(11).tickFormat(fmt));
  bottom.select(".domain").remove();
  bottom.attr("font-size", 24).attr("font-family", "DejaVu Sans");

  var top = g.append("g")
    .attr("transform", "translate(0," + plotTop + ")")
    .call(d3.axisTop(x).tickValues(p.ticks).tickSizeInner(-8).tickSizeOuter(0)
      .tickFormat(""));
  top.select(".domain").remove();

  g.append("rect")
    .attr("x", edges[i]).attr("y", plotTop)
    .attr("width", edges[i + 1] - edges[i]).attr("height", plotBottom - plotTop)
    .attr("fill", "none").attr("stroke", "#000").attr("stroke-width", 1.5);
});

// x axis label
var xl = svg.append("text")
  .attr("x", 623).attr("y", 896)
  .attr("text-anchor", "middle").attr("font-size", 25.5);
xl.append("tspan").text("Expansion Velocity [");
xl.append("tspan").attr("font-family", "Liberation Serif").text("10");
xl.append("tspan").attr("font-family", "Liberation Serif").attr("font-size", 17).attr("dy", -11).text("3");
xl.append("tspan").attr("dy", 11).text("\u00a0\u00a0km s");
xl.append("tspan").attr("font-size", 17).attr("dy", -11).text("\u22121");
xl.append("tspan").attr("dy", 11).text("\u00a0]");

// y axis label
var yl = svg.append("text")
  .attr("transform", "translate(30,405) rotate(-90)")
  .attr("text-anchor", "middle").attr("font-size", 24);
yl.append("tspan").text("Log(");
yl.append("tspan").attr("font-family", "Liberation Serif").attr("font-style", "italic").text("F");
yl.append("tspan").attr("font-family", "Liberation Serif").attr("font-style", "italic")
  .attr("font-size", 17).attr("dy", 5).text("\u03bb");
yl.append("tspan").attr("dy", -5).text(") + constant");
</script>
</body>
</html>
